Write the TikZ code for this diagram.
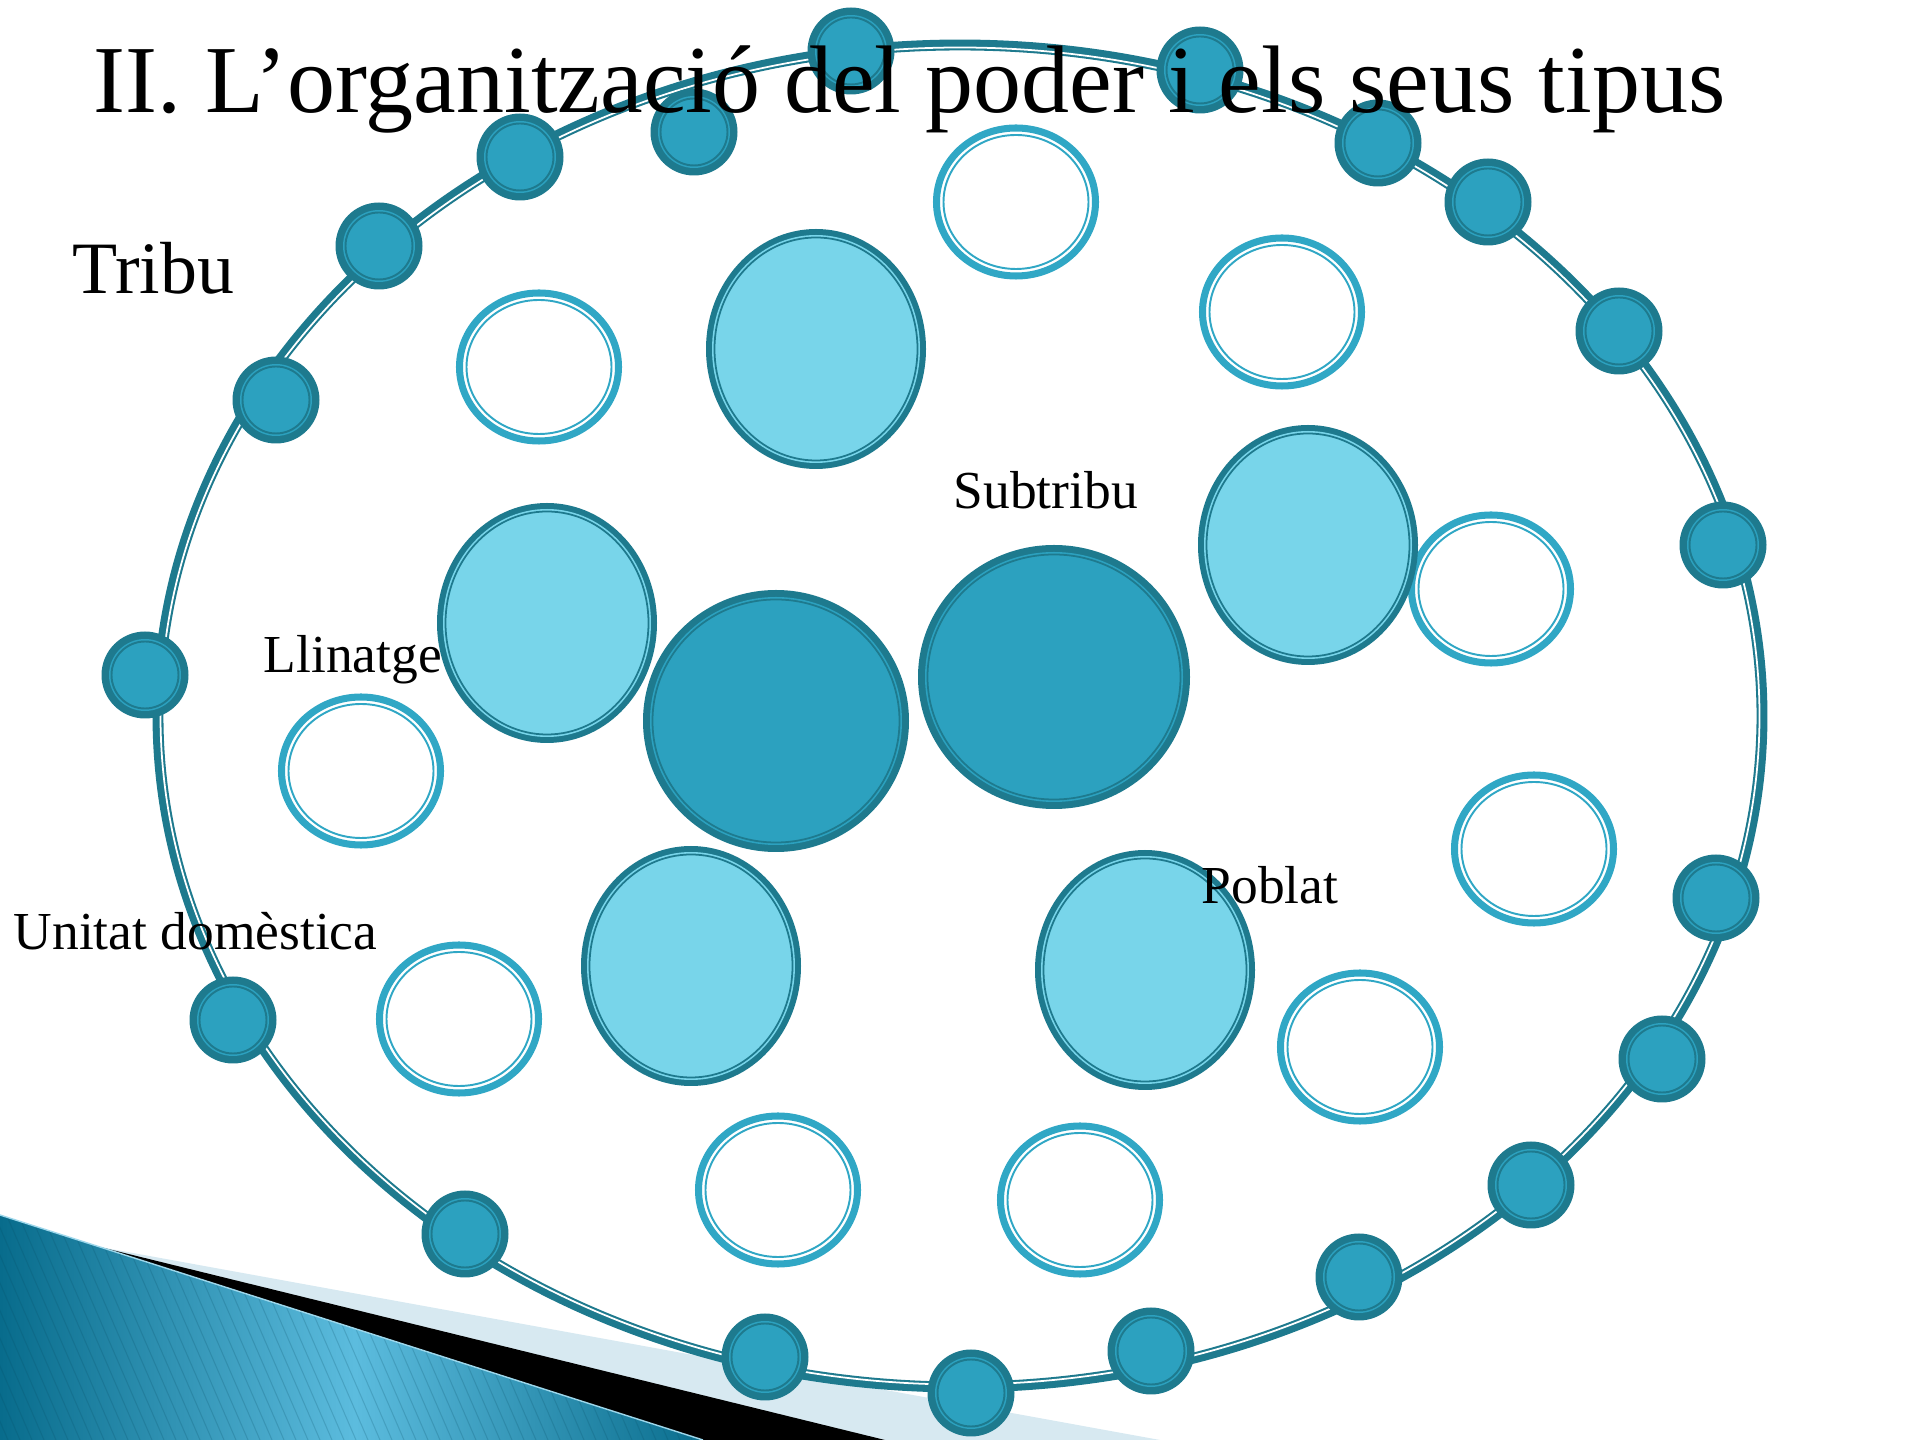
\documentclass[tikz,border=0pt]{standalone}
\usepackage{fontspec}
\setmainfont{Liberation Serif}
\usepackage{tikz}
\usetikzlibrary{positioning}
\definecolor{tribudark}{RGB}{30,122,142}
\definecolor{tribumid}{RGB}{44,161,191}
\definecolor{tribulight}{RGB}{120,213,234}
\definecolor{triburing}{RGB}{48,167,197}
\definecolor{bandlight}{RGB}{215,233,241}
\definecolor{banddark}{RGB}{8,108,140}
\definecolor{bandmid}{RGB}{92,188,222}

\begin{document}
\begin{tikzpicture}[x=0.01cm, y=-0.01cm,
    lbl/.style={inner sep=0pt, anchor=base west, font=\fontsize{15.2}{18}\selectfont}]
    \useasboundingbox (0,0) rectangle (1920,1440);

    % Bottom-left band
    \fill[bandlight] (100,1247) -- (1160,1440) -- (600,1440) -- cycle;
    \fill[black] (100,1247) -- (885,1440) -- (600,1440) -- cycle;
    \begin{scope}
        \clip (0,1215) -- (703,1440) -- (0,1440) -- cycle;
        \shade[left color=banddark, right color=banddark, middle color=bandmid] (0,1200) rectangle (710,1440);
        \foreach \s in {-120,-108,...,710}
            \draw[banddark!70!black, opacity=0.2, line width=0.3pt] (\s,1200) -- ++(104,240);
    \end{scope}
    \draw[bandmid!60!white, line width=0.4pt] (0,1215) -- (703,1440);

    % Outer ring (tribu)
    \draw[tribudark, line width=3.1pt] (960,716) ellipse (802 and 671);
    \draw[white, line width=0.5pt] (960,716) ellipse (799.5 and 668.5);

    % Dots on the ring
    \foreach \x/\y in {851/51, 1200/70, 694/132, 520/157, 1378/143, 1488/202,
                       379/246, 1619/331, 276/400, 1723/545, 145/675, 1716/898,
                       233/1020, 1662/1059, 465/1234, 1531/1185, 1359/1277,
                       765/1357, 1151/1351, 971/1393} {
        \fill[tribudark] (\x,\y) circle (43.5);
        \fill[tribumid] (\x,\y) circle (36);
        \draw[tribudark, line width=0.55pt] (\x,\y) circle (33.5);
    }

    % Open rings (unitats domestiques)
    \foreach \x/\y in {1016/202, 539/367, 1282/312, 1491/589, 361/771,
                       1534/849, 459/1019, 1360/1047, 778/1190, 1080/1200} {
        \draw[triburing, line width=2pt] (\x,\y) ellipse (79.5 and 74);
        \draw[triburing, line width=0.55pt] (\x,\y) ellipse (72.5 and 67);
    }

    % Light circles (llinatges)
    \foreach \x/\y in {816/349, 547/623, 1308/545, 691/966, 1145/970} {
        \fill[tribudark] (\x,\y) ellipse (110 and 120);
        \fill[tribulight] (\x,\y) ellipse (104 and 114);
        \draw[tribudark, line width=0.5pt] (\x,\y) ellipse (101.5 and 111.5);
    }

    % Big circles (subtribus)
    \foreach \x/\y/\rx/\ry in {776/721/133/131, 1054/677/136/132} {
        \fill[tribudark] (\x,\y) ellipse ({\rx} and {\ry});
        \fill[tribumid] (\x,\y) ellipse ({\rx-7} and {\ry-7});
        \draw[tribudark, line width=0.5pt] (\x,\y) ellipse ({\rx-9.5} and {\ry-9.5});
    }

    % Labels
    \node[lbl, font=\fontsize{27.3}{31}\selectfont] (title) at (93,113) {II. L’organització del poder i els seus tipus};
    \node[lbl, font=\fontsize{21}{25}\selectfont] (tribu) at (72,294) {Tribu};
    \node[lbl] (subtribu) at (953,509) {Subtribu};
    \node[lbl] (llinatge) at (263,673) {Llinatge};
    \node[lbl] (poblat) at (1201,904) {Poblat};
    \node[lbl] (unitat) at (13,950) {Unitat domèstica};
\end{tikzpicture}
\end{document}
